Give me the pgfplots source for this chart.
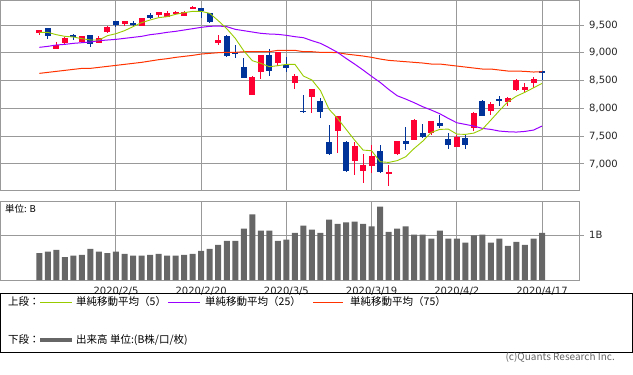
\documentclass[border=0pt]{standalone}
\usepackage{pgfplots}
\pgfplotsset{compat=1.18}
\usepackage{pgfplotstable}
\usepackage{fontspec}
\setmainfont{DejaVu Sans}
\newfontfamily\jp{Noto Sans CJK JP}
\definecolor{upred}{HTML}{FF0033}
\definecolor{dnblue}{HTML}{003399}
\definecolor{maA}{HTML}{99CC00}
\definecolor{maB}{HTML}{9900FF}
\definecolor{maC}{HTML}{FF3300}
\definecolor{gridgray}{HTML}{999999}
\definecolor{volgray}{HTML}{666666}

\pgfplotstableread{
i o h l c
0 9356 9415 9326 9410
2 9074 9188 9074 9134
3 9176 9278 9164 9266
5 9194 9302 9188 9296
7 9182 9302 9182 9266
8 9374 9482 9362 9470
10 9524 9572 9488 9572
12 9488 9626 9488 9620
14 9680 9728 9650 9728
15 9650 9752 9650 9716
16 9716 9752 9698 9734
17 9668 9752 9668 9734
18 9782 9842 9782 9830
21 9176 9320 9140 9230
25 8246 8582 8246 8564
26 8660 8960 8528 8960
28 8822 9014 8768 9014
30 8462 8618 8354 8582
32 8210 8348 7922 8348
35 7598 7862 7202 7862
37 7058 7394 6806 7322
38 6878 7178 6662 6986
39 6968 7340 6842 7142
41 6824 6986 6608 6854
42 7184 7412 7154 7412
44 7436 7808 7430 7796
46 7556 7772 7520 7772
49 7298 7514 7298 7490
51 7640 7934 7598 7916
53 7958 8114 7886 8078
55 8120 8204 8042 8186
56 8336 8528 8318 8510
57 8330 8456 8294 8384
58 8462 8564 8372 8528
}\up

\pgfplotstableread{
i o h l c
1 9446 9446 9254 9308
4 9320 9344 9236 9284
6 9320 9320 9110 9152
9 9572 9572 9458 9500
11 9536 9572 9482 9500
13 9680 9716 9614 9626
19 9806 9806 9632 9752
20 9716 9716 9530 9554
22 9308 9326 8924 8942
23 9008 9140 8912 8972
24 8744 8900 8552 8552
27 8960 9068 8588 8678
29 8786 8924 8660 8732
31 7952 8240 7922 7940
33 8132 8192 7832 7940
34 7394 7700 7166 7178
36 7394 7406 6860 6872
40 7232 7346 6842 6854
43 7412 7664 7256 7364
45 7556 7718 7466 7484
47 7736 7880 7640 7688
48 7448 7556 7274 7346
50 7472 7526 7274 7346
52 8132 8150 7868 7868
54 8168 8222 8042 8138
59 8672 8672 8510 8648
}\down

\pgfplotstableread{
i ma5 ma25 ma75
0 9368 9098 8630
1 9368 9116 8648
2 9326 9140 8666
3 9296 9152 8684
4 9284 9170 8702
5 9254 9182 8720
6 9230 9194 8720
7 9230 9218 8738
8 9308 9230 8756
9 9344 9242 8774
10 9398 9260 8792
11 9470 9278 8810
12 9542 9296 8828
13 9590 9326 8852
14 9632 9344 8876
15 9650 9368 8894
16 9692 9386 8918
17 9722 9410 8936
18 9746 9434 8954
19 9746 9458 8978
20 9710 9476 8990
21 9578 9482 9002
22 9434 9470 9008
23 9260 9422 9008
24 9035 9398 9020
25 8858 9374 9020
26 8810 9350 9020
27 8750 9338 9020
28 8768 9332 9044
29 8792 9314 9044
30 8792 9290 9044
31 8582 9272 9020
32 8510 9218 9020
33 8320 9170 9008
34 7985 9092 9008
35 7820 9008 9002
36 7625 8900 8978
37 7430 8798 8960
38 7250 8690 8942
39 7238 8576 8918
40 7040 8468 8888
41 7028 8342 8864
42 7060 8228 8852
43 7130 8168 8840
44 7280 8102 8828
45 7410 8030 8816
46 7568 7970 8798
47 7622 7904 8798
48 7628 7820 8780
49 7538 7742 8762
50 7532 7712 8744
51 7556 7682 8726
52 7625 7640 8708
53 7790 7622 8708
54 7960 7592 8690
55 8120 7580 8672
56 8220 7574 8672
57 8290 7586 8666
58 8370 7610 8654
59 8450 7682 8660
}\ma

\pgfplotstableread{
i v
0 0.60
1 0.63
2 0.67
3 0.51
4 0.54
5 0.56
6 0.69
7 0.63
8 0.60
9 0.63
10 0.58
11 0.54
12 0.54
13 0.56
14 0.58
15 0.54
16 0.54
17 0.56
18 0.58
19 0.65
20 0.69
21 0.78
22 0.87
23 0.87
24 1.14
25 1.46
26 1.10
27 1.10
28 0.87
29 0.90
30 1.05
31 1.21
32 1.12
33 1.05
34 1.34
35 1.25
36 1.28
37 1.30
38 1.25
39 1.19
40 1.63
41 1.07
42 1.14
43 1.19
44 1.01
45 1.01
46 0.92
47 1.10
48 0.92
49 0.92
50 0.83
51 0.99
52 1.01
53 0.83
54 0.92
55 0.76
56 0.85
57 0.78
58 0.92
59 1.05
}\vol

\pgfplotsset{
  every axis/.append style={
    scale only axis,
    width=579bp,
    xmin=-4.554, xmax=63.40,
    xtick={9,19,29,39,49,59},
    grid=major,
    grid style={draw=gridgray, line width=1bp},
    axis line style={draw=gridgray, line width=1bp},
    xtick style={draw=none},
    ytick style={draw=gridgray, line width=1bp},
    ytick pos=right,
    yticklabel pos=right,
    tick align=outside,
    major tick length=4bp,
    tick label style={font=\fontsize{10bp}{12bp}\selectfont, text=black!85},
    /pgf/number format/.cd, 1000 sep={,}, assume math mode=true,
  },
  candle/.style 2 args={draw=none, mark=none, forget plot,
    error bars/.cd, y dir=both, y explicit, error mark=none,
    error bar style={draw=#1, line width=#2, line cap=butt, solid}},
}

\begin{document}
\begin{tikzpicture}[x=1bp,y=1bp]
\useasboundingbox (0,0) rectangle (633,374);

% upper panel
\begin{axis}[
  at={(0.5bp,183.5bp)}, anchor=south west,
  height=190bp,
  ymin=6523, ymax=9941,
  ytick={7000,7500,8000,8500,9000,9500},
  xticklabels={},
  yticklabel style={anchor=west, inner sep=0pt, xshift=5.5bp},
]
\addplot[candle={upred}{1bp}]
  table[x=i, y expr={(\thisrow{h}+\thisrow{l})/2}, y error expr={(\thisrow{h}-\thisrow{l})/2}] {\up};
\addplot[candle={upred}{6bp}]
  table[x=i, y expr={(\thisrow{o}+\thisrow{c})/2}, y error expr={abs(\thisrow{c}-\thisrow{o})/2}] {\up};
\addplot[candle={dnblue}{1bp}]
  table[x=i, y expr={(\thisrow{h}+\thisrow{l})/2}, y error expr={(\thisrow{h}-\thisrow{l})/2}] {\down};
\addplot[candle={dnblue}{6bp}]
  table[x=i, y expr={(\thisrow{o}+\thisrow{c})/2}, y error expr={abs(\thisrow{c}-\thisrow{o})/2}] {\down};
\addplot[maC, line width=1bp, mark=none] table[x=i, y=ma75] {\ma};
\addplot[maB, line width=1bp, mark=none] table[x=i, y=ma25] {\ma};
\addplot[maA, line width=0.9bp, mark=none] table[x=i, y=ma5] {\ma};
\end{axis}

% volume panel
\begin{axis}[
  at={(0.5bp,94bp)}, anchor=south west,
  height=79bp,
  ymin=0, ymax=1.7556,
  ytick={1}, yticklabels={1B},
  xticklabels={2020/2/5,2020/2/20,2020/3/5,2020/3/19,2020/4/2,2020/4/17},
  xticklabel style={anchor=north, inner sep=0pt, yshift=-2.5bp},
  yticklabel style={anchor=west, inner sep=0pt, xshift=5.5bp},
]
\addplot[ybar, bar width=6bp, fill=volgray, draw=none] table[x=i, y=v] {\vol};
\end{axis}

\node[anchor=west, inner sep=0pt, font=\jp\fontsize{9.5bp}{11bp}\selectfont] at (5,165) {単位: B};

% legend box
\draw[black, line width=1bp] (0.5,22) rectangle (632.5,81);
\begin{scope}[every node/.style={anchor=west, inner sep=0pt, font=\jp\fontsize{10.5bp}{12bp}\selectfont}]
\node at (8,72) {上段：};
\draw[maA, line width=1bp] (40,72) -- (72,72);
\node at (76,72) {単純移動平均（5）};
\draw[maB, line width=1bp] (168,72) -- (200,72);
\node at (205,72) {単純移動平均（25）};
\draw[maC, line width=1bp] (313,72) -- (343,72);
\node at (350,72) {単純移動平均（75）};
\node at (8,34) {下段：};
\draw[volgray, line width=4bp] (40,34) -- (72,34);
\node at (76,34) {出来高 単位:(B株/口/枚)};
\end{scope}
\node[anchor=east, inner sep=0pt, text=black!60, font=\jp\fontsize{10bp}{12bp}\selectfont] at (615,17) {(c)Quants Research Inc.};
\end{tikzpicture}
\end{document}
